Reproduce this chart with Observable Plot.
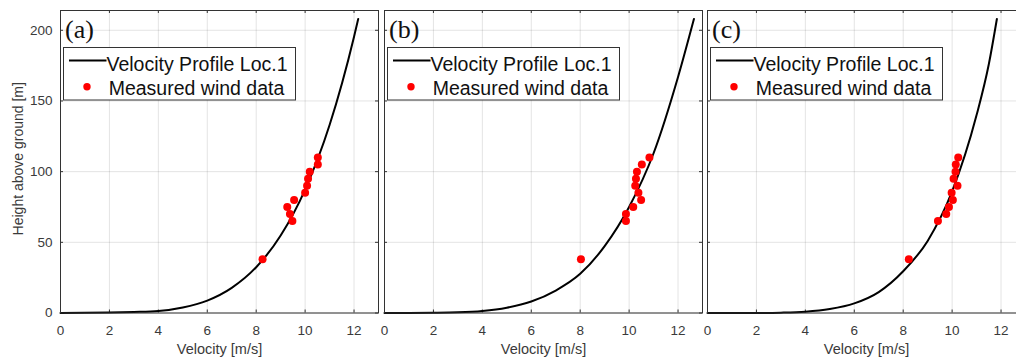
<!DOCTYPE html>
<html><head><meta charset="utf-8">
<script src="https://cdn.jsdelivr.net/npm/d3@7"></script>
<script src="https://cdn.jsdelivr.net/npm/@observablehq/plot@0.6"></script>
<style>
html,body{margin:0;padding:0;background:#fff;overflow:hidden}
#wrap{position:relative;width:1016px;height:361px;overflow:hidden;background:#fff}
#wrap svg{position:absolute;top:0}
</style></head><body><div id="wrap"></div>
<script>
// ---- data ----
const panelLabels = ["(a)", "(b)", "(c)"];
const legendLabels = ["Velocity Profile Loc.1", "Measured wind data"];
const xLabel = "Velocity [m/s]";
const yLabel = "Height above ground [m]";
const xTicks = [0, 2, 4, 6, 8, 10, 12];
const yTicks = [0, 50, 100, 150, 200];

// fitted velocity profile curves (velocity m/s, height m)
const profileVelocityA = [0, 1, 2, 3, 4, 5, 6, 7, 8, 9, 10, 11, 12, 12.17];
const profileHeightA   = [0, 0.1, 0.3, 0.7, 1.4, 3.9, 8.8, 17.8, 32.4, 54.8, 87.3, 133, 195.5, 208];
const profileVelocityB = [0, 1, 2, 3, 4, 5, 6, 7, 8, 9, 10, 11, 12, 12.65];
const profileHeightB   = [0, 0.05, 0.15, 0.45, 1.4, 3.7, 8.1, 15.9, 27.7, 47.3, 75, 113, 167, 208];
const profileVelocityC = [0, 1, 2, 3, 4, 5, 6, 7, 8, 9, 10, 11, 11.5, 11.83];
const profileHeightC   = [0, 0.01, 0.05, 0.25, 0.9, 2.8, 6.8, 14.8, 29.5, 51, 86, 140, 176, 208];

// measured wind data
const measuredHeight    = [38, 65, 70, 75, 80, 85, 90, 95, 100, 105, 110];
const measuredVelocityA = [8.26, 9.48, 9.38, 9.27, 9.55, 10.0, 10.08, 10.12, 10.19, 10.52, 10.52];
const measuredVelocityB = [8.03, 9.87, 9.87, 10.17, 10.49, 10.38, 10.25, 10.28, 10.32, 10.52, 10.83];
const measuredVelocityC = [8.23, 9.42, 9.76, 9.87, 10.03, 9.98, 10.22, 10.06, 10.14, 10.15, 10.25];

// ---- layout ----
const H = 361, MT = 10, MB = 48.5;
const FULL_X = 13, Y_MAX = 214;
const textColor = "#3a3a3a";
const font = "'Liberation Sans', Arial, Helvetica, sans-serif";

const panels = [
  {label: panelLabels[0], pv: profileVelocityA, ph: profileHeightA, mv: measuredVelocityA,
   left: 0, width: 381, ml: 60, mr: 3, xMax: 13, showY: true, rightBorder: true},
  {label: panelLabels[1], pv: profileVelocityB, ph: profileHeightB, mv: measuredVelocityB,
   left: 381, width: 322, ml: 3, mr: 1, xMax: 13, showY: false, rightBorder: true},
  {label: panelLabels[2], pv: profileVelocityC, ph: profileHeightC, mv: measuredVelocityC,
   left: 703, width: 313, ml: 4, mr: 0, xMax: 309 / 318 * 13, showY: false, rightBorder: false}
];

const wrap = document.getElementById("wrap");

panels.forEach(p => {
  const frameW = p.width - p.ml - p.mr;
  const frameH = H - MT - MB;
  const pxPerUnit = frameW / p.xMax;
  const labelShift = (FULL_X - p.xMax) / 2 * pxPerUnit;
  const profile = p.pv.map((v, i) => ({v, h: p.ph[i]}));
  const measured = p.mv.map((v, i) => ({v, h: measuredHeight[i]}));

  const marks = [
    Plot.gridX(xTicks, {stroke: "#000", strokeOpacity: 0.11, strokeWidth: 1}),
    Plot.gridY(yTicks, {stroke: "#000", strokeOpacity: 0.11, strokeWidth: 1}),
    // inward MATLAB-style ticks
    Plot.tickX(xTicks, {x: d => d, insetTop: frameH - 3, stroke: "#333"}),
    Plot.tickX(xTicks, {x: d => d, insetBottom: frameH - 3, stroke: "#333"}),
    Plot.tickY(yTicks, {y: d => d, insetRight: frameW - 3, stroke: "#333"}),
    Plot.axisX(xTicks, {tickSize: 0, tickPadding: 12, fontSize: 13.5, fill: textColor, label: null}),
    Plot.text([xLabel], {text: d => d, frameAnchor: "bottom", dy: 36, dx: labelShift,
      textAnchor: "middle", lineAnchor: "middle", fontSize: 14.5, fill: textColor}),
    Plot.line(profile, {x: "v", y: "h", stroke: "#000", strokeWidth: 2, curve: "monotone-x"}),
    Plot.dot(measured, {x: "v", y: "h", r: 4, fill: "#ff0000", stroke: "none"})
  ];
  if (p.showY) {
    marks.push(Plot.axisY(yTicks, {tickSize: 0, tickPadding: 8, fontSize: 13.5, fill: textColor, label: null}));
    marks.push(Plot.text([yLabel], {text: d => d, frameAnchor: "left", rotate: -90, dx: -42, dy: -3,
      textAnchor: "middle", lineAnchor: "middle", fontSize: 14, fill: textColor}));
  }
  if (p.rightBorder) {
    marks.push(Plot.tickY(yTicks, {y: d => d, insetLeft: frameW - 3, stroke: "#333"}));
    marks.push(Plot.frame({stroke: "#333", strokeWidth: 1}));
  } else {
    marks.push(Plot.frame({anchor: "left", stroke: "#333", strokeWidth: 1}));
    marks.push(Plot.frame({anchor: "top", stroke: "#333", strokeWidth: 1}));
    marks.push(Plot.frame({anchor: "bottom", stroke: "#333", strokeWidth: 1}));
  }

  const svg = Plot.plot({
    width: p.width, height: H,
    marginTop: MT, marginBottom: MB, marginLeft: p.ml, marginRight: p.mr,
    x: {domain: [0, p.xMax], axis: null},
    y: {domain: [0, Y_MAX], axis: null},
    style: {fontFamily: font, background: "transparent", overflow: "visible"},
    marks
  });
  svg.style.left = p.left + "px";
  wrap.appendChild(svg);

  // panel label and legend (overlay inside the frame)
  const g = d3.select(svg).append("g").attr("text-anchor", "start");
  const x0 = p.ml;
  g.append("text").attr("x", x0 + 5).attr("y", 38)
    .attr("font-family", "'Liberation Serif', 'Times New Roman', serif")
    .attr("font-size", 26).attr("fill", "#111").text(p.label);
  g.append("rect").attr("x", x0 + 3.5).attr("y", 47.5).attr("width", 232).attr("height", 52.5)
    .attr("fill", "#fff").attr("stroke", "#333").attr("stroke-width", 1);
  g.append("line").attr("x1", x0 + 9).attr("x2", x0 + 46.5).attr("y1", 60.5).attr("y2", 60.5)
    .attr("stroke", "#000").attr("stroke-width", 2);
  g.append("text").attr("x", x0 + 46.5).attr("y", 70.7)
    .attr("font-family", font).attr("font-size", 19.5).attr("fill", "#111").text(legendLabels[0]);
  g.append("circle").attr("cx", x0 + 27).attr("cy", 86.7).attr("r", 3.7).attr("fill", "#ff0000");
  g.append("text").attr("x", x0 + 48.7).attr("y", 95)
    .attr("font-family", font).attr("font-size", 19.5).attr("fill", "#111").text(legendLabels[1]);
});
</script></body></html>
